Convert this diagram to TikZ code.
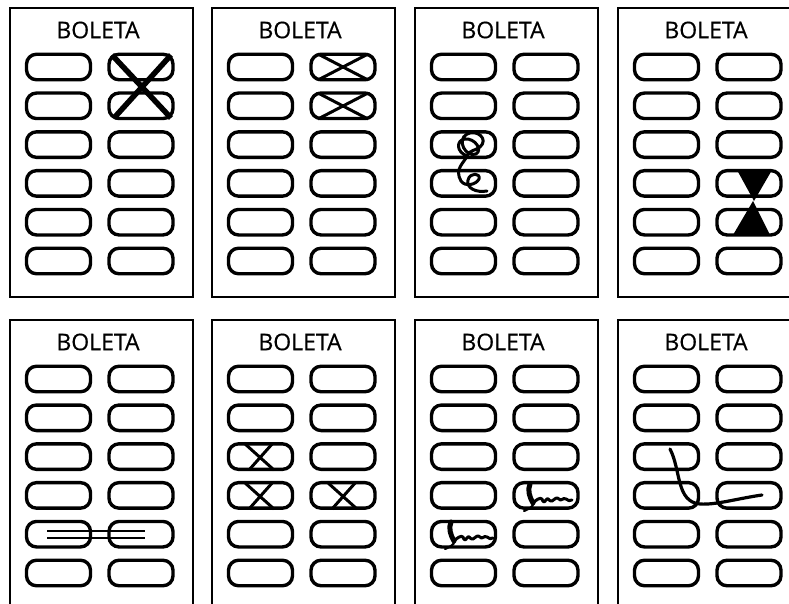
\documentclass[tikz,border=0pt]{standalone}
\usepackage{fontspec}
\setmainfont{Open Sans}
\newfontfamily\titlefont{Open Sans}[FakeBold=0.5]
\usetikzlibrary{calc}

\begin{document}
\begin{tikzpicture}[x=1pt, y=-1pt,
    ballot/.style={draw, line width=2.8pt},
    choice/.style={draw, line width=3.4pt, rounded corners=10pt, minimum width=64pt, minimum height=25.5pt, inner sep=0pt},
    title/.style={font=\titlefont\fontsize{23}{24}\selectfont, inner sep=0pt},
    pen/.style={draw, line width=3pt, line cap=round, line join=round}]
    \useasboundingbox (0,0) rectangle (789,604);
    \clip (0,0) rectangle (789,604);
    % ballots
    \foreach \r/\yy in {0/8, 1/320}{
      \foreach \c/\xx in {0/10, 1/212, 2/415, 3/618}{
        \path[ballot] (\xx,\yy) rectangle ++(183,289);
        \node[title] (t\r\c) at (\xx+88,\yy+22) {BOLETA};
        \foreach \i in {0,...,5}{
          \node[choice] (b\r\c l\i) at (\xx+48.5,\yy+59+38.8*\i) {};
          \node[choice] (b\r\c r\i) at (\xx+131,\yy+59+38.8*\i) {};
        }
      }
    }
    % big cross
    \path[pen, line width=5.5pt, line cap=butt] (112,55) -- (171,118) (171,55) -- (114,118);
    % two crosses
    \foreach \y in {54,93}{
      \path[pen, line cap=butt] (318,\y) -- (368,\y+26) (368,\y) -- (318,\y+26);
    }
    % doodle
    \path[pen, line width=3pt] (467,156) .. controls (456,152) and (456,140) .. (465,139)
      .. controls (475,138) and (483,150) .. (476,154) .. controls (466,158) and (456,140) .. (467,134)
      .. controls (477,129) and (489,139) .. (480,147) .. controls (475,151) and (469,150) .. (467,156)
      .. controls (464,163) and (454,169) .. (461,181) .. controls (465,187) and (476,185) .. (479,179)
      .. controls (481,173) and (470,172) .. (468,180) .. controls (466,188) and (476,193) .. (487,191);
    % hourglass
    \path[fill] (737,170) -- (772,170) -- (754,201) -- cycle;
    \path[fill] (733,235) -- (770,235) -- (753,201) -- cycle;
    % double line
    \path[pen, line width=2.5pt, line cap=butt] (47,531) -- (145,531) (47,538) -- (145,538);
    % three crosses
    \foreach \x/\y in {244/443, 244/482, 327/482}{
      \path[pen, line cap=butt] (\x,\y) -- (\x+30,\y+27) (\x+29,\y) -- (\x+5,\y+27);
    }
    % signatures
    \foreach \sx/\sy in {530/484, 451/522}{
      \begin{scope}[shift={(\sx,\sy)}]
        \path[pen, line width=5pt] (0,0) .. controls (-3,6) and (0,14) .. (3,19);
        \path[pen, line width=2.2pt] (3,19) .. controls (4,23) and (-2,25) .. (-6,27);
        \path[pen, line width=3pt] (3,19) .. controls (6,16) and (10,13) .. (12,15)
          .. controls (13,18) and (14,19) .. (16,16) .. controls (18,12) and (19,18) .. (22,17)
          .. controls (25,16) and (26,12) .. (29,15) .. controls (31,18) and (33,13) .. (36,15)
          .. controls (38,17) and (40,17) .. (42,16);
      \end{scope}
    }
    % long stroke
    \path[pen, line width=3.2pt] (670,449) .. controls (681,470) and (676,502) .. (700,504)
      .. controls (716,505) and (735,499) .. (762,495);
\end{tikzpicture}
\end{document}
